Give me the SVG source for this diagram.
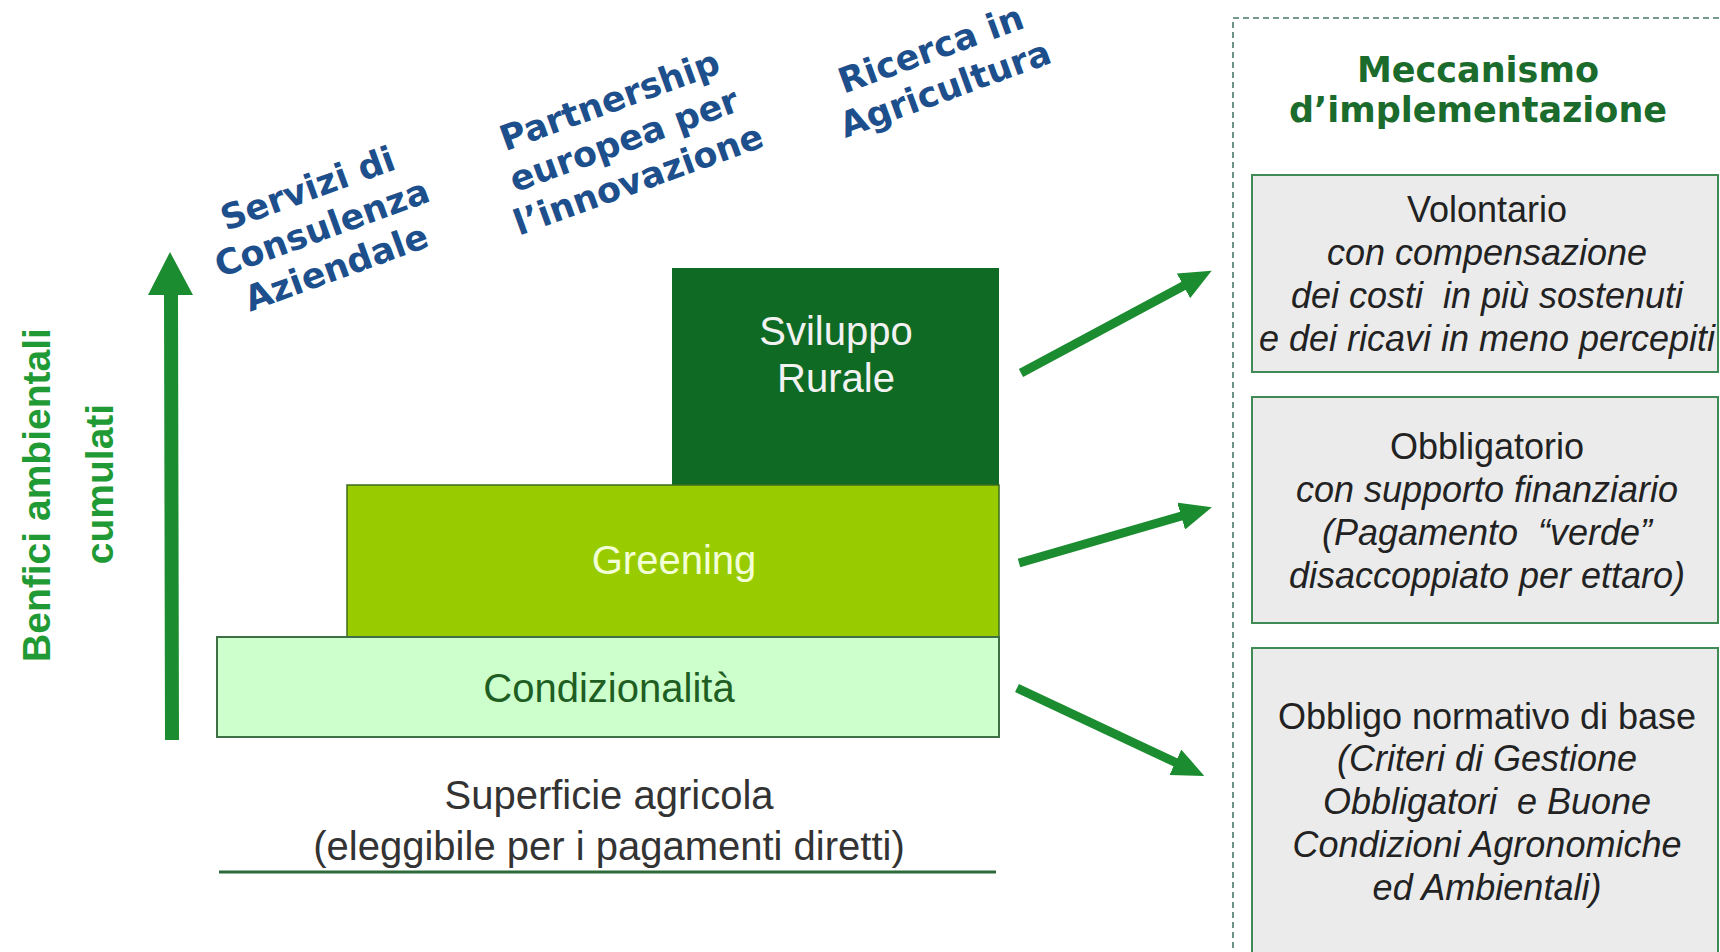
<svg xmlns="http://www.w3.org/2000/svg" width="1720" height="952" viewBox="0 0 1720 952">
<style>
.lbl{font-family:"DejaVu Sans",Verdana,sans-serif;font-weight:bold;font-size:35px;fill:#1c4f8b;text-anchor:middle}
.vt{font-family:"Liberation Sans",Arial,sans-serif;font-weight:bold;font-size:39px;fill:#1f9a35;text-anchor:middle}
.st{font-family:"Liberation Sans",Arial,sans-serif;font-size:40px;text-anchor:middle}
.bx{fill:#ebebeb;stroke:#3f8a55;stroke-width:2}
.bt{font-family:"Liberation Sans",Arial,sans-serif;font-size:36px;fill:#222;text-anchor:middle}
.it{font-style:italic}
.conn{stroke:#1b8c2f;stroke-width:9;fill:none;marker-end:url(#ah)}
</style>
<defs>
<marker id="ah" markerUnits="userSpaceOnUse" viewBox="0 0 32 28" markerWidth="32" markerHeight="28" refX="4" refY="14" orient="auto">
<path d="M0,0 L32,14 L0,28 z" fill="#1b8c2f"/>
</marker>
</defs>
<rect width="1720" height="952" fill="#ffffff"/>

<g id="axis">
<polygon points="165,740 179,740 178,295 193,295 170,252 148,295 164,295" fill="#1b8c2f"/>
<text class="vt" transform="translate(50,495) rotate(-90)">Benfici ambientali</text>
<text class="vt" transform="translate(113,484) rotate(-90)">cumulati</text>
</g>

<g id="label-servizi">
<text class="lbl" transform="translate(322,228) rotate(-20)"><tspan x="0" y="-30">Servizi di</tspan><tspan x="0" y="12">Consulenza</tspan><tspan x="0" y="54">Aziendale</tspan></text>
</g>
<g id="label-partnership">
<text class="lbl" transform="translate(624,140) rotate(-20)"><tspan x="0" y="-30">Partnership</tspan><tspan x="0" y="12">europea per</tspan><tspan x="0" y="54">l’innovazione</tspan></text>
</g>
<g id="label-ricerca">
<text class="lbl" transform="translate(938,69) rotate(-20)"><tspan x="0" y="-9">Ricerca in</tspan><tspan x="0" y="33">Agricultura</tspan></text>
</g>

<g id="sviluppo">
<rect x="672" y="268" width="327" height="218" fill="#0f6b24"/>
<text class="st" x="836" y="345" fill="#f2f2f2">Sviluppo</text>
<text class="st" x="836" y="392" fill="#f2f2f2">Rurale</text>
</g>
<g id="greening">
<rect x="347" y="485" width="652" height="152" fill="#99cc00" stroke="#3d6b1e" stroke-width="1.5"/>
<text class="st" x="674" y="574" fill="#f3ffd6">Greening</text>
</g>
<g id="condizionalita">
<rect x="217" y="637" width="782" height="100" fill="#ccffcc" stroke="#3f6f45" stroke-width="2"/>
<text class="st" x="609" y="702" fill="#1e5e22">Condizionalità</text>
</g>
<g id="superficie">
<text class="st" x="609" y="809" fill="#333">Superficie agricola</text>
<text class="st" x="609" y="860" fill="#333">(eleggibile per i pagamenti diretti)</text>
<line x1="219" y1="872" x2="996" y2="872" stroke="#2d6a3a" stroke-width="3"/>
</g>

<g id="connectors">
<line class="conn" x1="1021" y1="373" x2="1187" y2="284"/>
<line class="conn" x1="1019" y1="563" x2="1185" y2="515"/>
<line class="conn" x1="1017" y1="688" x2="1179" y2="764"/>
</g>

<g id="meccanismo">
<rect x="1233" y="18" width="500" height="950" fill="none" stroke="#4a7a66" stroke-width="1.6" stroke-dasharray="6,4"/>
<text x="1478" y="82" font-family="'DejaVu Sans',Verdana,sans-serif" font-weight="bold" font-size="35" fill="#1a6b2c" text-anchor="middle">Meccanismo</text>
<text x="1478" y="122" font-family="'DejaVu Sans',Verdana,sans-serif" font-weight="bold" font-size="35" fill="#1a6b2c" text-anchor="middle">d’implementazione</text>
</g>

<g id="volontario">
<rect class="bx" x="1252" y="175" width="466" height="197"/>
<text class="bt" x="1487" y="222">Volontario</text>
<text class="bt it" x="1487" y="265">con compensazione</text>
<text class="bt it" x="1487" y="308" xml:space="preserve">dei costi  in più sostenuti</text>
<text class="bt it" x="1487" y="351">e dei ricavi in meno percepiti</text>
</g>
<g id="obbligatorio">
<rect class="bx" x="1252" y="397" width="466" height="226"/>
<text class="bt" x="1487" y="459">Obbligatorio</text>
<text class="bt it" x="1487" y="502">con supporto finanziario</text>
<text class="bt it" x="1487" y="545" xml:space="preserve">(Pagamento  “verde”</text>
<text class="bt it" x="1487" y="588">disaccoppiato per ettaro)</text>
</g>
<g id="obbligo">
<rect class="bx" x="1252" y="648" width="466" height="320"/>
<text class="bt" x="1487" y="729">Obbligo normativo di base</text>
<text class="bt it" x="1487" y="771">(Criteri di Gestione</text>
<text class="bt it" x="1487" y="814" xml:space="preserve">Obbligatori  e Buone</text>
<text class="bt it" x="1487" y="857">Condizioni Agronomiche</text>
<text class="bt it" x="1487" y="900">ed Ambientali)</text>
</g>
</svg>
